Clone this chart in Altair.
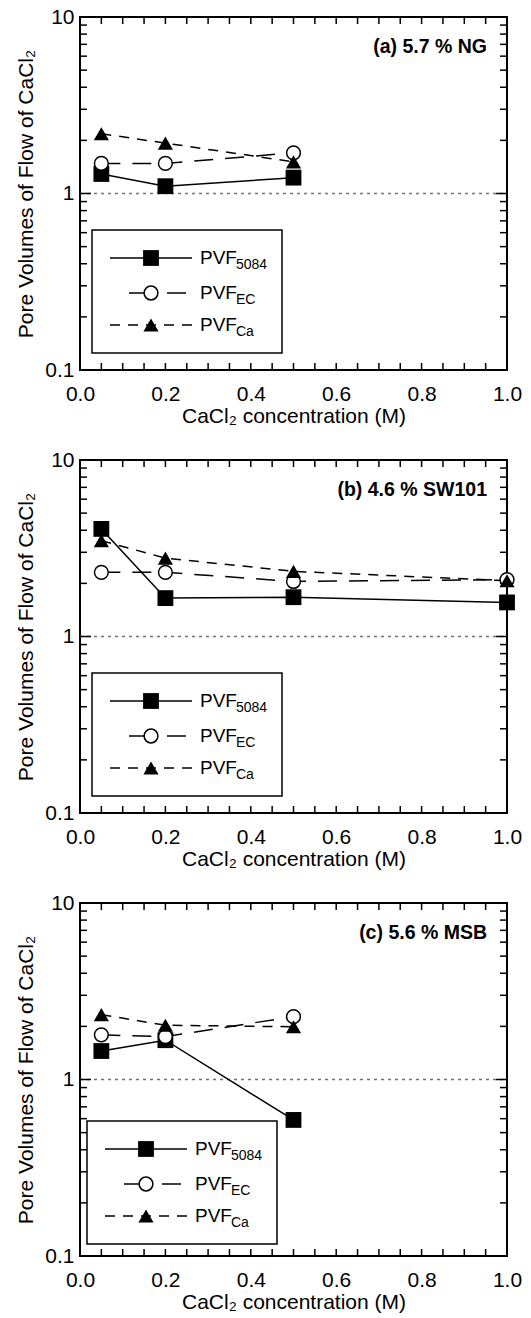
import altair as alt
import pandas as pd

# ---------------- data ----------------
conc_a = [0.05, 0.2, 0.5]
pvf5084_a = [1.29, 1.10, 1.23]
pvfec_a = [1.48, 1.48, 1.70]
pvfca_a = [2.18, 1.93, 1.51]

conc_b = [0.05, 0.2, 0.5, 1.0]
pvf5084_b = [4.07, 1.65, 1.67, 1.56]
pvfec_b = [2.31, 2.31, 2.05, 2.10]
pvfca_b = [3.49, 2.78, 2.34, 2.07]

conc_c = [0.05, 0.2, 0.5]
pvf5084_c = [1.45, 1.67, 0.59]
pvfec_c = [1.79, 1.75, 2.27]
pvfca_c = [2.33, 2.03, 1.99]

panel_labels = ["(a) 5.7 % NG", "(b) 4.6 % SW101", "(c) 5.6 % MSB"]

x_label_vals = [0.0, 0.2, 0.4, 0.6, 0.8, 1.0]
x_tick_vals = [0.05, 0.1, 0.15, 0.2, 0.25, 0.3, 0.35, 0.4, 0.45, 0.5,
               0.55, 0.6, 0.65, 0.7, 0.75, 0.8, 0.85, 0.9, 0.95]
y_label_vals = [0.1, 1, 10]
y_minor_vals = [0.2, 0.3, 0.4, 0.5, 0.6, 0.7, 0.8, 0.9, 2, 3, 4, 5, 6, 7, 8, 9]
y_major_vals = [1]

legend_subs = ["5084", "EC", "Ca"]

FONT = "Liberation Sans"
W, H = 427, 353


def make_panel(xs, v5084, vec, vca, label, box):
    bx0, by0 = box
    xenc = alt.X("x:Q",
                 scale=alt.Scale(domain=[0, 1], nice=False, zero=False),
                 axis=alt.Axis(values=x_label_vals, format=".1f",
                               title="CaCl\u2082 concentration (M)",
                               labelFlush=False, labelOverlap=False,
                               labelBaseline="middle", labelPadding=24,
                               titleY=46, titleBaseline="middle"))
    yenc = alt.Y("y:Q",
                 scale=alt.Scale(type="log", domain=[0.1, 10], nice=False),
                 axis=alt.Axis(values=y_label_vals, format="~g",
                               title="Pore Volumes of Flow of CaCl\u2082",
                               labelFlush=False, labelOverlap=False,
                               labelPadding=6, titleX=-54, titleBaseline="middle"))

    d5084 = pd.DataFrame({"x": xs, "y": v5084})
    dec = pd.DataFrame({"x": xs, "y": vec})
    dca = pd.DataFrame({"x": xs, "y": vca})

    tx = pd.DataFrame({"x": x_tick_vals})
    ty = pd.DataFrame({"y": y_minor_vals})
    tyM = pd.DataFrame({"y": y_major_vals})

    layers = []
    # reference line at 1
    layers.append(alt.Chart(tyM).mark_rule(color="#707070", strokeDash=[3, 4], strokeWidth=1.5)
                  .encode(y=yenc, x=alt.value(0), x2=alt.value(W)))
    # ticks (inward)
    layers.append(alt.Chart(tx).mark_rule(color="black", strokeWidth=1.5)
                  .encode(x=xenc, y=alt.value(H), y2=alt.value(H - 7)))
    layers.append(alt.Chart(tx).mark_rule(color="black", strokeWidth=1.5)
                  .encode(x=xenc, y=alt.value(0), y2=alt.value(7)))
    layers.append(alt.Chart(ty).mark_rule(color="black", strokeWidth=1.5)
                  .encode(y=yenc, x=alt.value(0), x2=alt.value(7)))
    layers.append(alt.Chart(ty).mark_rule(color="black", strokeWidth=1.5)
                  .encode(y=yenc, x=alt.value(W - 7), x2=alt.value(W)))
    layers.append(alt.Chart(tyM).mark_rule(color="black", strokeWidth=1.5)
                  .encode(y=yenc, x=alt.value(0), x2=alt.value(11)))
    layers.append(alt.Chart(tyM).mark_rule(color="black", strokeWidth=1.5)
                  .encode(y=yenc, x=alt.value(W - 11), x2=alt.value(W)))

    # legend box
    layers.append(alt.Chart(tyM).mark_rect(fill="white", stroke="black", strokeWidth=1.5)
                  .encode(x=alt.value(bx0), x2=alt.value(bx0 + 190),
                          y=alt.value(by0), y2=alt.value(by0 + 123)))

    # data lines
    layers.append(alt.Chart(d5084).mark_line(color="black", strokeWidth=1.5)
                  .encode(x=xenc, y=yenc))
    layers.append(alt.Chart(dec).mark_line(color="black", strokeWidth=1.5, strokeDash=[19, 12])
                  .encode(x=xenc, y=yenc))
    layers.append(alt.Chart(dca).mark_line(color="black", strokeWidth=1.5, strokeDash=[10, 8])
                  .encode(x=xenc, y=yenc))
    # data points
    layers.append(alt.Chart(d5084).mark_point(shape="square", filled=True, color="black",
                                              size=250, opacity=1)
                  .encode(x=xenc, y=yenc))
    layers.append(alt.Chart(dec).mark_point(shape="circle", filled=True, fill="white",
                                            stroke="black", strokeWidth=1.5, size=190, opacity=1)
                  .encode(x=xenc, y=yenc))
    layers.append(alt.Chart(dca).mark_point(shape="triangle-up", filled=True, color="black",
                                            size=230, opacity=1)
                  .encode(x=xenc, y=yenc))

    # legend entries
    lx0 = bx0 + 18
    lx1 = bx0 + 100
    mx = bx0 + 59
    tx0 = bx0 + 108
    rows = [by0 + 28, by0 + 63, by0 + 95]
    # row 1: solid + square
    layers.append(alt.Chart(tyM).mark_rule(color="black", strokeWidth=1.5)
                  .encode(x=alt.value(lx0), x2=alt.value(lx1), y=alt.value(rows[0])))
    layers.append(alt.Chart(tyM).mark_point(shape="square", filled=True, color="black",
                                            size=250, opacity=1)
                  .encode(x=alt.value(mx), y=alt.value(rows[0])))
    # row 2: long dash + circle
    layers.append(alt.Chart(tyM).mark_rule(color="black", strokeWidth=1.5)
                  .encode(x=alt.value(bx0 + 37), x2=alt.value(mx), y=alt.value(rows[1])))
    layers.append(alt.Chart(tyM).mark_rule(color="black", strokeWidth=1.5)
                  .encode(x=alt.value(bx0 + 75), x2=alt.value(bx0 + 94), y=alt.value(rows[1])))
    layers.append(alt.Chart(tyM).mark_point(shape="circle", filled=True, fill="white",
                                            stroke="black", strokeWidth=1.5, size=190, opacity=1)
                  .encode(x=alt.value(mx), y=alt.value(rows[1])))
    # row 3: short dash + triangle
    layers.append(alt.Chart(tyM).mark_rule(color="black", strokeWidth=1.5, strokeDash=[10, 8])
                  .encode(x=alt.value(lx0), x2=alt.value(lx1), y=alt.value(rows[2])))
    layers.append(alt.Chart(tyM).mark_point(shape="triangle-up", filled=True, color="black",
                                            size=230, opacity=1)
                  .encode(x=alt.value(mx), y=alt.value(rows[2])))
    for r, sub in zip(rows, legend_subs):
        layers.append(alt.Chart(tyM).mark_text(text="PVF", font=FONT, fontSize=19, align="left",
                                               baseline="middle", color="black")
                      .encode(x=alt.value(tx0), y=alt.value(r)))
        layers.append(alt.Chart(tyM).mark_text(text=sub, font=FONT, fontSize=14, align="left",
                                               baseline="middle", color="black")
                      .encode(x=alt.value(tx0 + 36), y=alt.value(r + 7)))

    # panel label
    layers.append(alt.Chart(tyM).mark_text(text=label, font=FONT, fontSize=19.5, fontWeight="bold",
                                           align="right", baseline="middle", color="black")
                  .encode(x=alt.value(407), y=alt.value(30)))

    return alt.layer(*layers).properties(width=W, height=H)


pa = make_panel(conc_a, pvf5084_a, pvfec_a, pvfca_a, panel_labels[0], (12, 213))
pb = make_panel(conc_b, pvf5084_b, pvfec_b, pvfca_b, panel_labels[1], (12, 213))
pc = make_panel(conc_c, pvf5084_c, pvfec_c, pvfca_c, panel_labels[2], (7, 218))

chart = (alt.vconcat(pa, pb, pc, spacing=21)
         .properties(padding={"left": 14, "top": 5, "right": 5, "bottom": 5}, background="white")
         .configure_view(stroke="black", strokeWidth=2)
         .configure_axis(domain=False, grid=False, ticks=False, tickSize=0,
                         labelFont=FONT, labelFontSize=21, labelColor="black",
                         titleFont=FONT, titleFontSize=21, titleFontWeight="normal",
                         titleColor="black"))

chart.save("out.html", embed_options={"renderer": "svg", "actions": False})
